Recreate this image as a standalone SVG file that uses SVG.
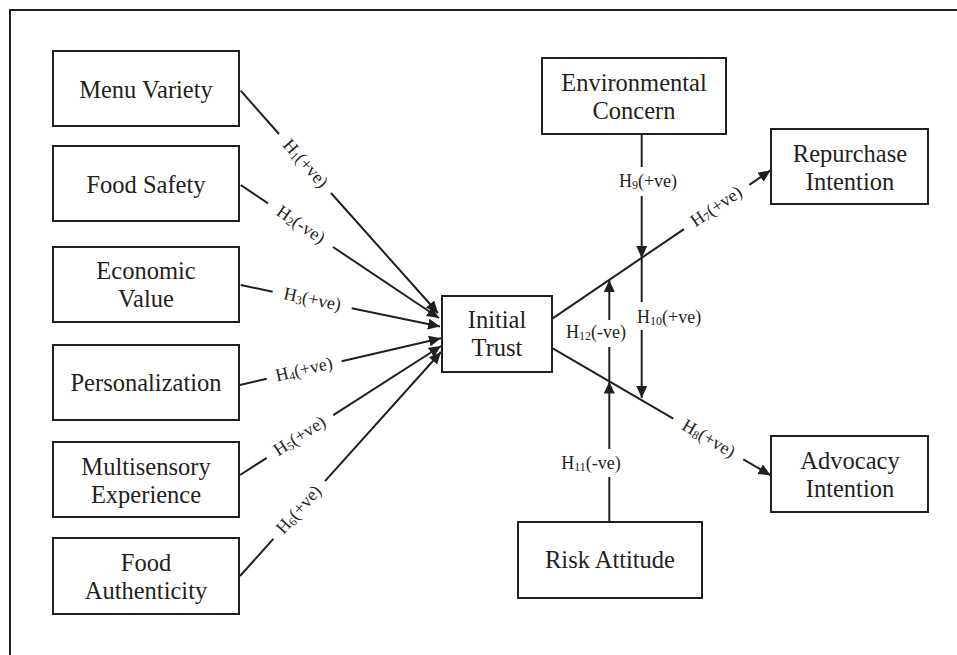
<svg xmlns="http://www.w3.org/2000/svg" width="957" height="655" viewBox="0 0 957 655">
<style>
.box{fill:#fff;stroke:#231f20;stroke-width:2}
.t{font-family:"Liberation Serif","Times New Roman",serif;font-size:24.5px;fill:#231f20;text-anchor:middle}
.ln{fill:none;stroke:#231f20;stroke-width:2}
.lbl{font-family:"Liberation Serif","Times New Roman",serif;font-size:18px;fill:#231f20}
.sub{font-size:12px}
</style>
<defs>
<marker id="ah" markerUnits="userSpaceOnUse" markerWidth="13" markerHeight="12" refX="12" refY="5.5" orient="auto">
<path d="M0,0 L12,5.5 L0,11 z" fill="#231f20"/>
</marker>
</defs>
<rect width="957" height="655" fill="#fff"/>
<path d="M10,655 V10 H957" fill="none" stroke="#231f20" stroke-width="2"/>

<g id="menu-variety"><rect class="box" x="53" y="51" width="186" height="75"/><text class="t" x="146" y="98">Menu Variety</text></g>
<g id="food-safety"><rect class="box" x="53" y="146" width="186" height="75"/><text class="t" x="146" y="193">Food Safety</text></g>
<g id="economic-value"><rect class="box" x="53" y="247" width="186" height="75"/><text class="t" x="146" y="279">Economic</text><text class="t" x="146" y="307">Value</text></g>
<g id="personalization"><rect class="box" x="53" y="345" width="186" height="75"/><text class="t" x="146" y="391">Personalization</text></g>
<g id="multisensory-experience"><rect class="box" x="53" y="442" width="186" height="75"/><text class="t" x="146" y="475">Multisensory</text><text class="t" x="146" y="503">Experience</text></g>
<g id="food-authenticity"><rect class="box" x="53" y="538" width="186" height="76"/><text class="t" x="146" y="571">Food</text><text class="t" x="146" y="599">Authenticity</text></g>
<g id="initial-trust"><rect class="box" x="442" y="296" width="110" height="76"/><text class="t" x="497" y="328">Initial</text><text class="t" x="497" y="356">Trust</text></g>
<g id="environmental-concern"><rect class="box" x="542" y="58" width="184" height="76"/><text class="t" x="634" y="91">Environmental</text><text class="t" x="634" y="119">Concern</text></g>
<g id="repurchase-intention"><rect class="box" x="771" y="129" width="157" height="75"/><text class="t" x="850" y="162">Repurchase</text><text class="t" x="850" y="190">Intention</text></g>
<g id="advocacy-intention"><rect class="box" x="771" y="436" width="157" height="76"/><text class="t" x="850" y="469">Advocacy</text><text class="t" x="850" y="497">Intention</text></g>
<g id="risk-attitude"><rect class="box" x="518" y="522" width="184" height="76"/><text class="t" x="610" y="568">Risk Attitude</text></g>

<g id="connectors">
<path class="ln" d="M240.7,90.7 L279,134"/><path class="ln" d="M331,193 L438,313" marker-end="url(#ah)"/>
<path class="ln" d="M240.7,185 L268,203.3"/><path class="ln" d="M333,247 L439,318" marker-end="url(#ah)"/>
<path class="ln" d="M240.7,285 L272.7,291.7"/><path class="ln" d="M351.7,308.2 L440,326.5" marker-end="url(#ah)"/>
<path class="ln" d="M240,385 L266.7,378.8"/><path class="ln" d="M341.7,361.3 L441,338.3" marker-end="url(#ah)"/>
<path class="ln" d="M240,475 L266.7,457.9"/><path class="ln" d="M333.3,415.1 L441,346" marker-end="url(#ah)"/>
<path class="ln" d="M240,576 L273.3,538.9"/><path class="ln" d="M325,481.2 L441,352" marker-end="url(#ah)"/>
<path class="ln" d="M552.7,318.3 L684,229.1"/><path class="ln" d="M749.3,184.8 L770.5,170.4" marker-end="url(#ah)"/>
<path class="ln" d="M552.7,348.3 L673.3,418.6"/><path class="ln" d="M743.3,459.4 L770.5,475.2" marker-end="url(#ah)"/>
<path class="ln" d="M641.7,134 V167"/><path class="ln" d="M641.7,196 V258" marker-end="url(#ah)"/>
<path class="ln" d="M641.7,258 V302"/><path class="ln" d="M641.7,330 V398" marker-end="url(#ah)"/>
<path class="ln" d="M609.3,381 V347"/><path class="ln" d="M609.3,320 V280" marker-end="url(#ah)"/>
<path class="ln" d="M609.3,522 V477"/><path class="ln" d="M609.3,449 V381.5" marker-end="url(#ah)"/>

<g transform="translate(305,164) rotate(48.6)"><text class="lbl" x="0" y="5" text-anchor="middle">H<tspan class="sub" dy="2">1</tspan><tspan dy="-2">(+ve)</tspan></text></g>
<g transform="translate(300.5,225.2) rotate(33.9)"><text class="lbl" x="0" y="5" text-anchor="middle">H<tspan class="sub" dy="2">2</tspan><tspan dy="-2">(-ve)</tspan></text></g>
<g transform="translate(312.2,300) rotate(11.8)"><text class="lbl" x="0" y="5" text-anchor="middle">H<tspan class="sub" dy="2">3</tspan><tspan dy="-2">(+ve)</tspan></text></g>
<g transform="translate(304.2,370) rotate(-13.1)"><text class="lbl" x="0" y="5" text-anchor="middle">H<tspan class="sub" dy="2">4</tspan><tspan dy="-2">(+ve)</tspan></text></g>
<g transform="translate(300,436.5) rotate(-32.7)"><text class="lbl" x="0" y="5" text-anchor="middle">H<tspan class="sub" dy="2">5</tspan><tspan dy="-2">(+ve)</tspan></text></g>
<g transform="translate(299.2,510) rotate(-48.1)"><text class="lbl" x="0" y="5" text-anchor="middle">H<tspan class="sub" dy="2">6</tspan><tspan dy="-2">(+ve)</tspan></text></g>
<g transform="translate(716.7,207) rotate(-34.2)"><text class="lbl" x="0" y="5" text-anchor="middle">H<tspan class="sub" dy="2">7</tspan><tspan dy="-2">(+ve)</tspan></text></g>
<g transform="translate(708.3,439) rotate(30.2)"><text class="lbl" x="0" y="5" text-anchor="middle">H<tspan class="sub" dy="2">8</tspan><tspan dy="-2">(+ve)</tspan></text></g>
<text class="lbl" x="648" y="187" text-anchor="middle">H<tspan class="sub" dy="2">9</tspan><tspan dy="-2">(+ve)</tspan></text>
<text class="lbl" x="637" y="323">H<tspan class="sub" dy="2">10</tspan><tspan dy="-2">(+ve)</tspan></text>
<text class="lbl" x="596" y="338" text-anchor="middle">H<tspan class="sub" dy="2">12</tspan><tspan dy="-2">(-ve)</tspan></text>
<text class="lbl" x="591" y="469" text-anchor="middle">H<tspan class="sub" dy="2">11</tspan><tspan dy="-2">(-ve)</tspan></text>
</g>
</svg>
